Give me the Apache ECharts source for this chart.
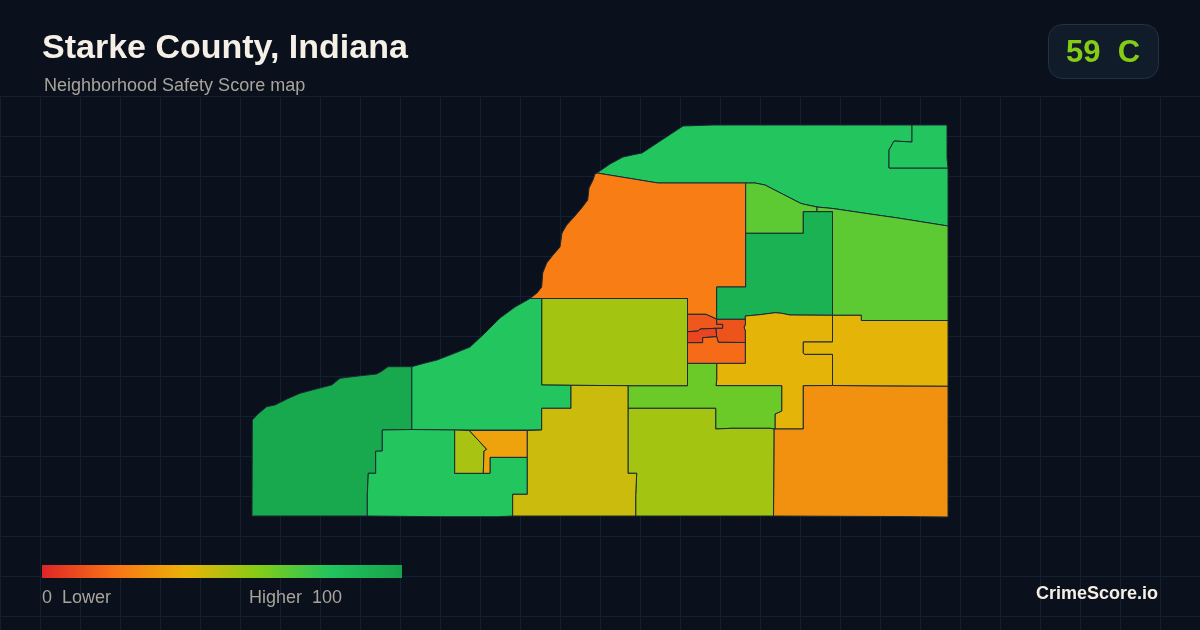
<!DOCTYPE html>
<html>
<head>
<meta charset="utf-8">
<style>html,body{margin:0;padding:0;background:#0a111c}#c{width:1200px;height:630px}</style>
<script src="https://cdn.jsdelivr.net/npm/echarts@6/dist/echarts.min.js"></script>
</head>
<body>
<div id="c"></div>
<script>
const titleText = 'Starke County, Indiana';
const subtitleText = 'Neighborhood Safety Score map';
const gradeText = '59  C';
const brandText = 'CrimeScore.io';
const legendLow = '0  Lower';
const legendHigh = 'Higher  100';
const scaleColors = ['#dc2626','#f97316','#eab308','#84cc16','#22c55e','#16a34a'];

const regionNames = ['North','Northeast','Northwest','NorthCentral','East','Central','CentralYellow','EastYellow','Southeast','CentralLime','WestCentral','South','MidWest','Southwest','SouthMid','SmallOlive','SmallAmber','SouthOlive','TownA','TownB','TownC','TownD'];
const regionScores = [80,80,23,68,68,91,41,41,29,65,54,54,80,97,80,53,35,46,13,8,12,18];
const regionOutlines = [
 [[597,173],[610,164],[623,157],[632,155],[642,153],[683,126],[713,125],[912,125],[912,142],[894,141],[889,150],[889,168],[948,168],[948,226],[898,218],[870,214],[833,208.5],[817,207],[803,204],[800,203],[765,185],[755,183],[658,183]],
 [[912,125],[947,125],[947,158],[948,168],[889,168],[889,150],[894,141],[912,142]],
 [[597,173],[658,183],[745.7,183],[745.7,287],[716.7,287],[716.7,319],[706,314.3],[687.5,314.3],[687.5,298.5],[530,298.5],[537,293],[541.7,287],[542.7,273],[546.7,263],[553,255],[560,247],[562,233],[566.7,225],[574,217],[581.7,208],[587.7,200],[589,188],[593,180],[595,174]],
 [[745.7,183],[755,183],[765,185],[800,203],[803,204],[817,207],[817,211.7],[803.3,211.7],[803.3,233.3],[745.7,233.3]],
 [[817,207],[833,208.5],[870,214],[898,218],[948,226],[948,320.5],[861.3,320.5],[861.3,315.3],[832.5,315.3],[832.5,211.7],[817,211.7]],
 [[745.7,233.3],[803.3,233.3],[803.3,211.7],[832.5,211.7],[832.5,315.3],[790,315],[781.7,313.3],[775,312.7],[760,314.7],[745.3,316],[745.3,319.3],[716.7,319.3],[716.7,287],[745.7,287]],
 [[745.3,316],[760,314.7],[775,312.7],[781.7,313.3],[790,315],[832.5,315.3],[832.5,342],[803.3,342],[803.3,353],[804.5,354.3],[832.5,354.3],[832.5,385.5],[803.3,385.7],[803.3,429],[775,429],[775,414],[781.7,411],[781.7,385.7],[716,385.7],[716.7,380],[716.7,363.3],[745.3,363.3],[745.3,331],[744,327],[745.3,325]],
 [[832.5,315.3],[861.3,315.3],[861.3,320.5],[948,320.5],[948,386.3],[875,386],[832.5,385.5],[832.5,354.3],[804.5,354.3],[803.3,353],[803.3,342],[832.5,342]],
 [[803.3,385.7],[832.5,385.5],[875,386],[948,386.3],[948,517],[895,516.5],[773.5,516],[774,429],[775,429],[803.3,429]],
 [[687.5,363.3],[716.7,363.3],[716.7,380],[716,385.7],[781.7,385.7],[781.7,411],[775,414],[775,429],[774,429],[770,428.3],[731,428.3],[715.7,429],[715.7,408.3],[628,408.3],[628,385.7],[687.5,385.7]],
 [[541.7,298.5],[687.5,298.5],[687.5,385.7],[628,385.7],[571,385.3],[541.7,385]],
 [[628,408.3],[715.7,408.3],[715.7,429],[731,428.3],[770,428.3],[774,429],[773.5,516],[635.7,516],[635.7,495.7],[636.7,473.3],[628,473.3]],
 [[411.7,366.7],[425,363],[437,360],[450,355],[470,347],[485,333],[500,318],[515,307],[530,298.5],[541.7,298.5],[541.7,385],[571,385.3],[571,408.3],[541.7,408.3],[541.7,430],[513,430],[454.7,430],[411.7,429.5]],
 [[252.3,420],[258,414],[266.7,406.7],[275,405],[287,399],[300,393.3],[316,389],[331.7,385],[340,378.3],[358,376],[376.7,374],[382,371],[388,366.7],[411.7,366.7],[411.7,429.5],[382.3,430],[382.3,451],[375.7,451.3],[375.7,473.3],[368.3,473.3],[367.3,495],[367.3,516],[252,516]],
 [[382.3,430],[411.7,429.5],[454.7,430],[454.7,473.3],[483.3,473.3],[490,473.3],[490,457.3],[527.3,457.3],[527.3,494.3],[512.7,494.3],[512.7,516],[498,516.7],[438,516.7],[367.3,516],[367.3,495],[368.3,473.3],[375.7,473.3],[375.7,451.3],[382.3,451]],
 [[454.7,430],[469.3,430.5],[486.7,449.3],[484,451],[483.3,473.3],[454.7,473.3]],
 [[469.3,430.5],[527.3,430.5],[527.3,457.3],[490,457.3],[490,473.3],[483.3,473.3],[484,451],[486.7,449.3]],
 [[571,385.3],[628,385.7],[628,473.3],[636.7,473.3],[635.7,495.7],[635.7,516],[512.7,516],[512.7,494.3],[527.3,494.3],[527.3,430.5],[541.7,430],[541.7,408.3],[571,408.3]],
 [[687.5,314.3],[706,314.3],[716.7,319.3],[716.7,324.3],[722.7,324.3],[722.7,328.3],[716,328.3],[700,329],[698.3,331],[687.5,331.7]],
 [[687.5,331.7],[698.3,331],[700,329],[716,328.3],[716.7,336.7],[702.7,337.7],[702.7,342.7],[687.5,342.7]],
 [[716.7,319.3],[745.3,319.3],[745.3,325],[744,327],[745.3,331],[745.3,342.5],[718.3,342.3],[716.7,336.7],[716,328.3],[722.7,328.3],[722.7,324.3],[716.7,324.3]],
 [[687.5,342.7],[702.7,342.7],[702.7,337.7],[716.7,336.7],[718.3,342.3],[745.3,342.5],[745.3,363.3],[687.5,363.3]]
];

const geoJson = {
  type: 'FeatureCollection',
  features: regionNames.map((name, i) => ({
    type: 'Feature',
    properties: { name },
    geometry: { type: 'Polygon', coordinates: [regionOutlines[i].concat([regionOutlines[i][0]])] }
  }))
};
echarts.registerMap('starke', geoJson);

const gridGraphics = [];
const gridStyle = { stroke: '#132030', lineWidth: 1 };
for (let x = 0; x <= 1200; x += 40) {
  gridGraphics.push({ type: 'line', silent: true, z: -10, shape: { x1: x + 0.5, y1: 96.5, x2: x + 0.5, y2: 630 }, style: gridStyle });
}
for (let y = 97; y <= 630; y += 40) {
  gridGraphics.push({ type: 'line', silent: true, z: -10, shape: { x1: 0, y1: y - 0.5, x2: 1200, y2: y - 0.5 }, style: gridStyle });
}
const fontFamily = '"Liberation Sans", Arial, sans-serif';
const textEl = (text, x, y, font, fill, align) => ({
  type: 'text', silent: true, z: 10, x, y,
  style: { text, font: font + ' ' + fontFamily, fill, align: align || 'left', verticalAlign: 'middle' }
});

const chart = echarts.init(document.getElementById('c'), null, { renderer: 'canvas', width: 1200, height: 630 });
chart.setOption({
  animation: false,
  backgroundColor: '#0a111c',
  visualMap: {
    type: 'continuous', min: 0, max: 100, show: false,
    inRange: { color: scaleColors }, seriesIndex: 0
  },
  series: [{
    type: 'map', map: 'starke', silent: true,
    projection: { project: p => p, unproject: p => p },
    left: 252, top: 125, width: 696, height: 392,
    label: { show: false },
    itemStyle: { borderColor: '#1b2a33', borderWidth: 1 },
    emphasis: { disabled: true },
    select: { disabled: true },
    data: regionNames.map((name, i) => ({ name, value: regionScores[i] }))
  }],
  graphic: gridGraphics.concat([
    textEl(titleText, 42, 49, 'bold 34px', '#f5efe6'),
    textEl(subtitleText, 44, 86, '18px', '#a8a49b'),
    { type: 'rect', silent: true, z: 9, shape: { x: 1048.5, y: 24.5, width: 110, height: 54, r: 14 }, style: { fill: '#111c2a', stroke: '#253140', lineWidth: 1 } },
    textEl(gradeText, 1103, 53, 'bold 31px', '#84cc16', 'center'),
    { type: 'rect', silent: true, z: 9, shape: { x: 42, y: 565, width: 360, height: 13 },
      style: { fill: new echarts.graphic.LinearGradient(0, 0, 1, 0,
        scaleColors.map((color, i) => ({ offset: i / (scaleColors.length - 1), color }))) } },
    textEl(legendLow, 42, 598, '18px', '#a8a49b'),
    textEl(legendHigh, 249, 598, '18px', '#a8a49b'),
    textEl(brandText, 1158, 594, 'bold 18px', '#f5efe6', 'right')
  ])
});
</script>
</body>
</html>
